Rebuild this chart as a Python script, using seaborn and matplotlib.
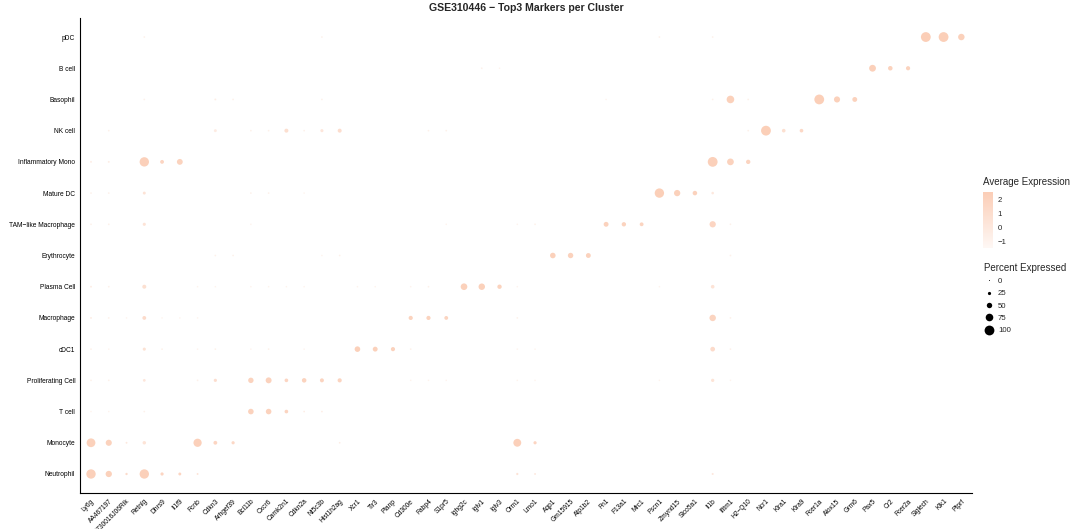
import numpy as np
import pandas as pd
import matplotlib
matplotlib.use("Agg")
import matplotlib.pyplot as plt
from matplotlib.colors import LinearSegmentedColormap, Normalize
from matplotlib.lines import Line2D
import seaborn as sns

sns.set_style("white")
plt.rcParams["font.family"] = ["Liberation Sans", "DejaVu Sans"]

# genes on the x axis (left to right)
genes = ["Ly6g", "AA467197", "A730016J06Rik", "Retnlg", "Dhrs9", "Il1f9", "Fcnb",
         "Cdkn3", "Arhgef39", "Bcl11b", "Cxcr6", "Camk2n1", "Cdkn2a", "Nt5c3b",
         "Hist1h2ag", "Xcr1", "Tlr3", "Pianp", "Cd300e", "Fabp4", "S1pr5", "Ighg2c",
         "Iglv1", "Iglv3", "Orm1", "Lmo1", "Aqp1", "Gm15915", "Atp1b2", "Fn1",
         "F13a1", "Mrc1", "Fscn1", "Zmynd15", "Slco5a1", "Il1b", "Ifitm1", "H2−Q10",
         "Ncr1", "Klra1", "Klra9", "Fcer1a", "Alox15", "Grm6", "Pax5", "Cr2",
         "Fcer2a", "Siglech", "Klk1", "Ptprf"]

# clusters on the y axis (bottom to top)
clusters = ["Neutrophil", "Monocyte", "T cell", "Proliferating Cell", "cDC1",
            "Macrophage", "Plasma Cell", "Erythrocyte", "TAM−like Macrophage",
            "Mature DC", "Inflammatory Mono", "NK cell", "Basophil", "B cell", "pDC"]

# (gene, percent expressed, average expression) per cluster
neutrophil = [("Ly6g", 95, 2.3), ("AA467197", 60, 2.2), ("A730016J06Rik", 15, 1.2),
              ("Retnlg", 95, 2.3), ("Dhrs9", 25, 1.8), ("Il1f9", 22, 1.8),
              ("Fcnb", 10, 0.5), ("Orm1", 14, 0.5), ("Lmo1", 10, 0.0), ("Il1b", 12, 0.0)]
monocyte = [("Ly6g", 88, 2.2), ("AA467197", 58, 2.1), ("A730016J06Rik", 10, 0.0),
            ("Retnlg", 28, 0.4), ("Fcnb", 82, 2.3), ("Cdkn3", 32, 1.8),
            ("Arhgef39", 25, 1.5), ("Hist1h2ag", 8, -0.5), ("Orm1", 78, 2.3),
            ("Lmo1", 25, 1.8)]
t_cell = [("Ly6g", 6, -1.0), ("AA467197", 6, -1.0), ("Retnlg", 8, -0.8),
          ("Bcl11b", 52, 2.1), ("Cxcr6", 52, 2.1), ("Camk2n1", 30, 1.9),
          ("Cdkn2a", 8, -0.5), ("Nt5c3b", 8, -0.5)]
proliferating = [("Ly6g", 8, -0.8), ("AA467197", 8, -0.8), ("Retnlg", 20, 0.2),
                 ("Fcnb", 8, -0.8), ("Cdkn3", 25, 1.0), ("Bcl11b", 50, 2.0),
                 ("Cxcr6", 56, 2.1), ("Camk2n1", 30, 1.8), ("Cdkn2a", 40, 2.0),
                 ("Nt5c3b", 34, 1.9), ("Hist1h2ag", 36, 1.9), ("Cd300e", 6, -1.0),
                 ("Fabp4", 6, -1.0), ("S1pr5", 6, -1.0), ("Orm1", 6, -1.0),
                 ("Lmo1", 6, -1.0), ("Fscn1", 6, -1.0), ("Il1b", 26, 0.4),
                 ("Ifitm1", 6, -1.0)]
cdc1 = [("Ly6g", 8, -0.8), ("AA467197", 6, -1.0), ("Retnlg", 24, 0.6),
        ("Dhrs9", 8, -0.8), ("Fcnb", 6, -1.0), ("Cdkn3", 8, -0.8), ("Bcl11b", 6, -1.0),
        ("Cxcr6", 8, -0.8), ("Cdkn2a", 6, -1.0), ("Xcr1", 52, 2.3), ("Tlr3", 44, 2.2),
        ("Pianp", 36, 2.1), ("Cd300e", 8, -0.8), ("Orm1", 6, -1.0), ("Lmo1", 6, -1.0),
        ("Il1b", 42, 1.2), ("Ifitm1", 8, -0.8)]
macrophage = [("Ly6g", 10, -0.5), ("AA467197", 8, -0.8), ("A730016J06Rik", 6, -1.0),
              ("Retnlg", 32, 1.2), ("Dhrs9", 6, -1.0), ("Il1f9", 6, -1.0),
              ("Fcnb", 6, -1.0), ("Cd300e", 36, 2.0), ("Fabp4", 36, 2.0),
              ("S1pr5", 32, 1.9), ("Orm1", 8, -0.8), ("Il1b", 62, 1.9), ("Ifitm1", 8, -0.8)]
plasma = [("Ly6g", 10, -0.5), ("AA467197", 8, -0.8), ("Retnlg", 34, 0.8),
          ("Fcnb", 6, -1.0), ("Cdkn3", 6, -1.0), ("Bcl11b", 6, -1.0), ("Cxcr6", 6, -1.0),
          ("Camk2n1", 6, -1.0), ("Cdkn2a", 6, -1.0), ("Xcr1", 6, -1.0), ("Tlr3", 6, -1.0),
          ("Cd300e", 6, -1.0), ("Fabp4", 8, -0.8), ("Ighg2c", 64, 2.2), ("Iglv1", 62, 2.2),
          ("Iglv3", 38, 2.0), ("Orm1", 6, -1.0), ("Fscn1", 6, -1.0), ("Il1b", 30, 0.5)]
erythrocyte = [("Cdkn3", 8, -0.8), ("Arhgef39", 8, -0.8), ("Nt5c3b", 6, -1.0),
               ("Hist1h2ag", 8, -0.8), ("Aqp1", 52, 2.2), ("Gm15915", 50, 2.1),
               ("Atp1b2", 44, 2.1), ("Ifitm1", 8, -0.8)]
tam_like = [("Ly6g", 8, -0.8), ("AA467197", 8, -0.8), ("Retnlg", 24, 0.5),
            ("Bcl11b", 6, -1.0), ("S1pr5", 6, -1.0), ("Orm1", 6, -1.0),
            ("Lmo1", 8, -0.8), ("Fn1", 44, 2.1), ("F13a1", 38, 2.0), ("Mrc1", 32, 1.9),
            ("Il1b", 60, 1.8), ("Ifitm1", 8, -0.8)]
mature_dc = [("Ly6g", 8, -0.8), ("AA467197", 8, -0.8), ("Retnlg", 22, 0.5),
             ("Bcl11b", 8, -0.8), ("Cxcr6", 8, -0.8), ("Cdkn2a", 6, -1.0),
             ("Fscn1", 95, 2.4), ("Zmynd15", 60, 2.2), ("Slco5a1", 40, 2.1),
             ("Il1b", 18, 0.0)]
inflammatory_mono = [("Ly6g", 10, -0.5), ("AA467197", 10, -0.5), ("Retnlg", 95, 2.3),
                     ("Dhrs9", 32, 1.8), ("Il1f9", 55, 2.0), ("Il1b", 100, 2.3),
                     ("Ifitm1", 65, 2.1), ("H2−Q10", 38, 1.9)]
nk_cell = [("AA467197", 8, -0.8), ("Cdkn3", 22, -0.3), ("Bcl11b", 8, -0.8),
           ("Cxcr6", 8, -0.8), ("Camk2n1", 34, 0.9), ("Cdkn2a", 8, -0.8),
           ("Nt5c3b", 24, 0.2), ("Hist1h2ag", 34, 1.0), ("Fabp4", 8, -0.8),
           ("S1pr5", 8, -0.8), ("H2−Q10", 8, -0.8), ("Ncr1", 100, 2.4),
           ("Klra1", 30, 0.8), ("Klra9", 30, 1.5)]
basophil = [("Retnlg", 8, -0.8), ("Cdkn3", 10, -0.5), ("Arhgef39", 8, -0.8),
            ("Nt5c3b", 8, -0.8), ("Fn1", 6, -1.0), ("Il1b", 8, -0.8),
            ("Ifitm1", 75, 2.2), ("H2−Q10", 8, -0.8), ("Fcer1a", 100, 2.4),
            ("Alox15", 58, 2.2), ("Grm6", 44, 2.1)]
b_cell = [("Iglv1", 8, -0.8), ("Iglv3", 6, -1.0), ("Pax5", 66, 2.3),
          ("Cr2", 40, 2.1), ("Fcer2a", 36, 2.0)]
pdc = [("Retnlg", 8, -0.8), ("Nt5c3b", 8, -0.8), ("Fscn1", 8, -0.8),
       ("Il1b", 8, -0.8), ("Siglech", 100, 2.5), ("Klk1", 100, 2.4), ("Ptprf", 62, 2.2)]

cluster_dots = [neutrophil, monocyte, t_cell, proliferating, cdc1, macrophage, plasma,
                erythrocyte, tam_like, mature_dc, inflammatory_mono, nk_cell, basophil,
                b_cell, pdc]

size_breaks = [0, 25, 50, 75, 100]
expr_ticks = [-1, 0, 1, 2]

rows = []
for cl, dots in zip(clusters, cluster_dots):
    for g, p, e in dots:
        rows.append({"cluster": cl, "gene": g, "pct": p, "avg": e})
df = pd.DataFrame(rows)
df["x"] = df["gene"].map({g: i for i, g in enumerate(genes)})
df["y"] = df["cluster"].map({c: i for i, c in enumerate(clusters)})

cmap = LinearSegmentedColormap.from_list("pale", ["#fef8f5", "#fbcdb6"])
vmin, vmax = -1.5, 2.55


def dot_area(p):
    d_px = 1.0 + 8.8 * p / 100.0
    return (d_px * 0.72) ** 2


size_map = {p: dot_area(p) for p in df["pct"].unique()}

fig = plt.figure(figsize=(10.8, 5.29), dpi=100)
ax = fig.add_axes([0.0744, 0.0686, 0.8256, 0.8968])

sns.scatterplot(data=df, x="x", y="y", hue="avg", palette=cmap, hue_norm=(vmin, vmax),
                size="pct", sizes=size_map, linewidth=0, legend=False, ax=ax)

ax.set_xlim(-0.6, len(genes) - 0.4)
ax.set_ylim(-0.6, len(clusters) - 0.4)
ax.set_xticks(range(len(genes)))
ax.set_xticklabels(genes, rotation=45, ha="right", rotation_mode="anchor", fontsize=4.8)
ax.set_yticks(range(len(clusters)))
ax.set_yticklabels(clusters, fontsize=4.8)
ax.set_xlabel("")
ax.set_ylabel("")
ax.tick_params(axis="both", length=2.2, width=0.6, pad=1.5, color="black", labelcolor="black")
for side in ["top", "right"]:
    ax.spines[side].set_visible(False)
for side in ["left", "bottom"]:
    ax.spines[side].set_color("black")
    ax.spines[side].set_linewidth(0.8)
ax.grid(False)

fig.text(0.487, 0.984, "GSE310446 − Top3 Markers per Cluster", ha="center", va="center",
         fontsize=7.6, fontweight="bold")

# colour legend
fig.text(0.9099, 1 - 182.3 / 529, "Average Expression", ha="left", va="center", fontsize=7)
cax = fig.add_axes([0.9099, 1 - 248.3 / 529, 0.0098, 56.6 / 529])
sm = plt.cm.ScalarMappable(cmap=cmap, norm=Normalize(vmin, vmax))
cb = fig.colorbar(sm, cax=cax, ticks=expr_ticks)
cb.outline.set_visible(False)
cb.ax.tick_params(length=0, labelsize=5.6, pad=3)
cb.ax.set_yticklabels(["−1", "0", "1", "2"])

# size legend
handles = [Line2D([], [], marker="o", linestyle="", color="black",
                  markersize=np.sqrt(dot_area(p)), markeredgewidth=0) for p in size_breaks]
leg = fig.legend(handles, [str(p) for p in size_breaks], title="Percent Expressed",
                 loc="upper left", bbox_to_anchor=(0.9075, 1 - 259 / 529), frameon=False,
                 fontsize=5.6, title_fontsize=7, labelspacing=0.62, handletextpad=0.6,
                 borderpad=0, handlelength=1.2, alignment="left")

fig.savefig("out.png", dpi=100, facecolor="white")
